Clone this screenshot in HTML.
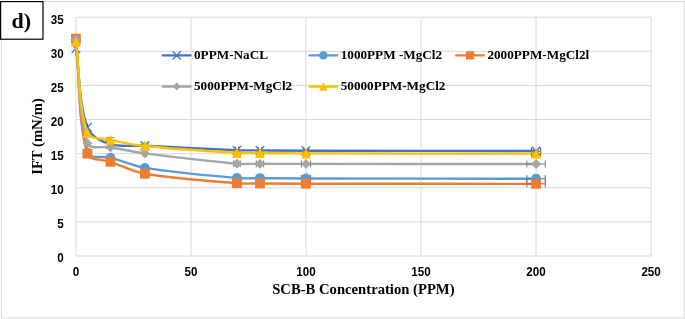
<!DOCTYPE html>
<html lang="en">
<head>
<meta charset="utf-8">
<title>IFT vs SCB-B Concentration</title>
<style>
html,body{margin:0;padding:0;background:#fff;}
body{width:685px;height:319px;overflow:hidden;}
svg{display:block;}
</style>
</head>
<body>
<svg width="685" height="319" viewBox="0 0 685 319">
<rect x="0" y="0" width="685" height="319" fill="#fff"/>
<rect x="1.5" y="1.5" width="682.8" height="316.3" fill="none" stroke="#D9D9D9" stroke-width="1"/>
<line x1="75.90" y1="256.00" x2="651.10" y2="256.00" stroke="#D9D9D9" stroke-width="1"/>
<line x1="75.90" y1="221.89" x2="651.10" y2="221.89" stroke="#D9D9D9" stroke-width="1"/>
<line x1="75.90" y1="187.77" x2="651.10" y2="187.77" stroke="#D9D9D9" stroke-width="1"/>
<line x1="75.90" y1="153.66" x2="651.10" y2="153.66" stroke="#D9D9D9" stroke-width="1"/>
<line x1="75.90" y1="119.54" x2="651.10" y2="119.54" stroke="#D9D9D9" stroke-width="1"/>
<line x1="75.90" y1="85.43" x2="651.10" y2="85.43" stroke="#D9D9D9" stroke-width="1"/>
<line x1="75.90" y1="51.31" x2="651.10" y2="51.31" stroke="#D9D9D9" stroke-width="1"/>
<line x1="75.90" y1="17.20" x2="651.10" y2="17.20" stroke="#D9D9D9" stroke-width="1"/>
<line x1="75.90" y1="17.20" x2="75.90" y2="256.00" stroke="#D9D9D9" stroke-width="1"/>
<line x1="190.94" y1="17.20" x2="190.94" y2="256.00" stroke="#D9D9D9" stroke-width="1"/>
<line x1="305.98" y1="17.20" x2="305.98" y2="256.00" stroke="#D9D9D9" stroke-width="1"/>
<line x1="421.02" y1="17.20" x2="421.02" y2="256.00" stroke="#D9D9D9" stroke-width="1"/>
<line x1="536.06" y1="17.20" x2="536.06" y2="256.00" stroke="#D9D9D9" stroke-width="1"/>
<line x1="651.10" y1="17.20" x2="651.10" y2="256.00" stroke="#D9D9D9" stroke-width="1"/>
<g>
<path d="M75.90,48.70 C79.73,74.90 78.94,103.88 87.40,127.30 C90.45,135.72 101.74,141.44 110.41,144.20 C120.91,147.54 133.42,145.05 144.92,145.60 C175.60,147.05 206.27,148.92 236.96,150.20 C244.62,150.52 252.29,150.34 259.96,150.40 C275.30,150.51 290.64,150.67 305.98,150.70 C382.67,150.87 459.37,150.90 536.06,151.00" fill="none" stroke="#4472C4" stroke-width="2.40" stroke-linecap="round" stroke-linejoin="round"/>
<path d="M87.29,127.30 L87.52,127.30 M87.29,123.80 L87.29,130.80 M87.52,123.80 L87.52,130.80" stroke="#2F5597" stroke-width="1" fill="none"/>
<path d="M110.07,144.20 L110.76,144.20 M110.07,140.70 L110.07,147.70 M110.76,140.70 L110.76,147.70" stroke="#2F5597" stroke-width="1" fill="none"/>
<path d="M144.23,145.60 L145.61,145.60 M144.23,142.10 L144.23,149.10 M145.61,142.10 L145.61,149.10" stroke="#2F5597" stroke-width="1" fill="none"/>
<path d="M235.35,150.20 L238.57,150.20 M235.35,146.70 L235.35,153.70 M238.57,146.70 L238.57,153.70" stroke="#2F5597" stroke-width="1" fill="none"/>
<path d="M258.12,150.40 L261.80,150.40 M258.12,146.90 L258.12,153.90 M261.80,146.90 L261.80,153.90" stroke="#2F5597" stroke-width="1" fill="none"/>
<path d="M303.68,150.70 L308.28,150.70 M303.68,147.20 L303.68,154.20 M308.28,147.20 L308.28,154.20" stroke="#2F5597" stroke-width="1" fill="none"/>
<path d="M531.46,151.00 L540.66,151.00 M531.46,147.50 L531.46,154.50 M540.66,147.50 L540.66,154.50" stroke="#2F5597" stroke-width="1" fill="none"/>
<path d="M71.60,44.40 L80.20,53.00 M71.60,53.00 L80.20,44.40" stroke="#4472C4" stroke-width="1.3" fill="none"/>
<path d="M83.10,123.00 L91.70,131.60 M83.10,131.60 L91.70,123.00" stroke="#4472C4" stroke-width="1.3" fill="none"/>
<path d="M106.11,139.90 L114.71,148.50 M106.11,148.50 L114.71,139.90" stroke="#4472C4" stroke-width="1.3" fill="none"/>
<path d="M140.62,141.30 L149.22,149.90 M140.62,149.90 L149.22,141.30" stroke="#4472C4" stroke-width="1.3" fill="none"/>
<path d="M232.66,145.90 L241.26,154.50 M232.66,154.50 L241.26,145.90" stroke="#4472C4" stroke-width="1.3" fill="none"/>
<path d="M255.66,146.10 L264.26,154.70 M255.66,154.70 L264.26,146.10" stroke="#4472C4" stroke-width="1.3" fill="none"/>
<path d="M301.68,146.40 L310.28,155.00 M301.68,155.00 L310.28,146.40" stroke="#4472C4" stroke-width="1.3" fill="none"/>
<path d="M531.76,146.70 L540.36,155.30 M531.76,155.30 L540.36,146.70" stroke="#4472C4" stroke-width="1.3" fill="none"/>
</g>
<g>
<path d="M75.90,39.90 C79.73,77.47 77.88,120.11 87.40,152.60 C89.38,159.36 102.83,155.64 110.41,157.65 C122.00,160.72 133.12,165.95 144.92,167.85 C175.30,172.73 206.24,175.24 236.96,178.00 C244.59,178.69 252.29,178.14 259.96,178.20 C275.30,178.31 290.64,178.47 305.98,178.50 C382.67,178.64 459.37,178.63 536.06,178.70" fill="none" stroke="#5B9BD5" stroke-width="2.40" stroke-linecap="round" stroke-linejoin="round"/>
<path d="M87.17,152.60 L87.63,152.60 M87.17,149.10 L87.17,156.10 M87.63,149.10 L87.63,156.10" stroke="#2E75B6" stroke-width="1" fill="none"/>
<path d="M109.72,157.65 L111.10,157.65 M109.72,154.15 L109.72,161.15 M111.10,154.15 L111.10,161.15" stroke="#2E75B6" stroke-width="1" fill="none"/>
<path d="M143.54,167.85 L146.30,167.85 M143.54,164.35 L143.54,171.35 M146.30,164.35 L146.30,171.35" stroke="#2E75B6" stroke-width="1" fill="none"/>
<path d="M233.73,178.00 L240.18,178.00 M233.73,174.50 L233.73,181.50 M240.18,174.50 L240.18,181.50" stroke="#2E75B6" stroke-width="1" fill="none"/>
<path d="M256.28,178.20 L263.65,178.20 M256.28,174.70 L256.28,181.70 M263.65,174.70 L263.65,181.70" stroke="#2E75B6" stroke-width="1" fill="none"/>
<path d="M301.38,178.50 L310.58,178.50 M301.38,175.00 L301.38,182.00 M310.58,175.00 L310.58,182.00" stroke="#2E75B6" stroke-width="1" fill="none"/>
<path d="M526.86,178.70 L545.26,178.70 M526.86,175.20 L526.86,182.20 M545.26,175.20 L545.26,182.20" stroke="#2E75B6" stroke-width="1" fill="none"/>
<circle cx="75.90" cy="39.90" r="4.90" fill="#5B9BD5"/>
<circle cx="87.40" cy="152.60" r="4.90" fill="#5B9BD5"/>
<circle cx="110.41" cy="157.65" r="4.90" fill="#5B9BD5"/>
<circle cx="144.92" cy="167.85" r="4.90" fill="#5B9BD5"/>
<circle cx="236.96" cy="178.00" r="4.90" fill="#5B9BD5"/>
<circle cx="259.96" cy="178.20" r="4.90" fill="#5B9BD5"/>
<circle cx="305.98" cy="178.50" r="4.90" fill="#5B9BD5"/>
<circle cx="536.06" cy="178.70" r="4.90" fill="#5B9BD5"/>
</g>
<g>
<path d="M75.90,38.60 C79.73,76.97 77.90,119.79 87.40,153.70 C89.41,160.85 102.73,159.12 110.41,161.80 C121.91,165.81 132.99,171.73 144.92,173.75 C175.17,178.88 206.25,180.65 236.96,183.25 C244.59,183.90 252.29,183.45 259.96,183.50 C275.30,183.60 290.64,183.68 305.98,183.70 C382.67,183.80 459.37,183.80 536.06,183.85" fill="none" stroke="#ED7D31" stroke-width="2.40" stroke-linecap="round" stroke-linejoin="round"/>
<path d="M87.17,153.70 L87.63,153.70 M87.17,150.20 L87.17,157.20 M87.63,150.20 L87.63,157.20" stroke="#C55A11" stroke-width="1" fill="none"/>
<path d="M109.72,161.80 L111.10,161.80 M109.72,158.30 L109.72,165.30 M111.10,158.30 L111.10,165.30" stroke="#C55A11" stroke-width="1" fill="none"/>
<path d="M143.54,173.75 L146.30,173.75 M143.54,170.25 L143.54,177.25 M146.30,170.25 L146.30,177.25" stroke="#C55A11" stroke-width="1" fill="none"/>
<path d="M233.73,183.25 L240.18,183.25 M233.73,179.75 L233.73,186.75 M240.18,179.75 L240.18,186.75" stroke="#C55A11" stroke-width="1" fill="none"/>
<path d="M256.28,183.50 L263.65,183.50 M256.28,180.00 L256.28,187.00 M263.65,180.00 L263.65,187.00" stroke="#C55A11" stroke-width="1" fill="none"/>
<path d="M301.38,183.70 L310.58,183.70 M301.38,180.20 L301.38,187.20 M310.58,180.20 L310.58,187.20" stroke="#C55A11" stroke-width="1" fill="none"/>
<path d="M526.86,183.85 L545.26,183.85 M526.86,180.35 L526.86,187.35 M545.26,180.35 L545.26,187.35" stroke="#C55A11" stroke-width="1" fill="none"/>
<rect x="71.00" y="33.70" width="9.80" height="9.80" fill="#ED7D31"/>
<rect x="82.50" y="148.80" width="9.80" height="9.80" fill="#ED7D31"/>
<rect x="105.51" y="156.90" width="9.80" height="9.80" fill="#ED7D31"/>
<rect x="140.02" y="168.85" width="9.80" height="9.80" fill="#ED7D31"/>
<rect x="232.06" y="178.35" width="9.80" height="9.80" fill="#ED7D31"/>
<rect x="255.06" y="178.60" width="9.80" height="9.80" fill="#ED7D31"/>
<rect x="301.08" y="178.80" width="9.80" height="9.80" fill="#ED7D31"/>
<rect x="531.16" y="178.95" width="9.80" height="9.80" fill="#ED7D31"/>
</g>
<g>
<path d="M75.90,39.50 C79.73,74.10 78.00,113.93 87.40,143.30 C89.51,149.87 102.74,145.95 110.41,147.30 C121.92,149.32 133.34,151.90 144.92,153.40 C175.52,157.37 206.24,160.92 236.96,163.70 C244.59,164.39 252.29,163.78 259.96,163.80 C275.30,163.84 290.64,163.89 305.98,163.90 C382.67,163.96 459.37,163.97 536.06,164.00" fill="none" stroke="#A5A5A5" stroke-width="2.40" stroke-linecap="round" stroke-linejoin="round"/>
<path d="M87.17,143.30 L87.63,143.30 M87.17,139.80 L87.17,146.80 M87.63,139.80 L87.63,146.80" stroke="#7C7C7C" stroke-width="1" fill="none"/>
<path d="M109.72,147.30 L111.10,147.30 M109.72,143.80 L109.72,150.80 M111.10,143.80 L111.10,150.80" stroke="#7C7C7C" stroke-width="1" fill="none"/>
<path d="M143.54,153.40 L146.30,153.40 M143.54,149.90 L143.54,156.90 M146.30,149.90 L146.30,156.90" stroke="#7C7C7C" stroke-width="1" fill="none"/>
<path d="M233.73,163.70 L240.18,163.70 M233.73,160.20 L233.73,167.20 M240.18,160.20 L240.18,167.20" stroke="#7C7C7C" stroke-width="1" fill="none"/>
<path d="M256.28,163.80 L263.65,163.80 M256.28,160.30 L256.28,167.30 M263.65,160.30 L263.65,167.30" stroke="#7C7C7C" stroke-width="1" fill="none"/>
<path d="M301.38,163.90 L310.58,163.90 M301.38,160.40 L301.38,167.40 M310.58,160.40 L310.58,167.40" stroke="#7C7C7C" stroke-width="1" fill="none"/>
<path d="M526.86,164.00 L545.26,164.00 M526.86,160.50 L526.86,167.50 M545.26,160.50 L545.26,167.50" stroke="#7C7C7C" stroke-width="1" fill="none"/>
<path d="M75.90,34.60 L80.80,39.50 L75.90,44.40 L71.00,39.50 Z" fill="#A5A5A5"/>
<path d="M87.40,138.40 L92.30,143.30 L87.40,148.20 L82.50,143.30 Z" fill="#A5A5A5"/>
<path d="M110.41,142.40 L115.31,147.30 L110.41,152.20 L105.51,147.30 Z" fill="#A5A5A5"/>
<path d="M144.92,148.50 L149.82,153.40 L144.92,158.30 L140.02,153.40 Z" fill="#A5A5A5"/>
<path d="M236.96,158.80 L241.86,163.70 L236.96,168.60 L232.06,163.70 Z" fill="#A5A5A5"/>
<path d="M259.96,158.90 L264.86,163.80 L259.96,168.70 L255.06,163.80 Z" fill="#A5A5A5"/>
<path d="M305.98,159.00 L310.88,163.90 L305.98,168.80 L301.08,163.90 Z" fill="#A5A5A5"/>
<path d="M536.06,159.10 L540.96,164.00 L536.06,168.90 L531.16,164.00 Z" fill="#A5A5A5"/>
</g>
<g>
<path d="M75.90,41.85 C79.73,72.13 78.30,106.85 87.40,132.70 C89.80,139.50 102.61,138.00 110.41,139.80 C121.78,142.43 133.31,144.80 144.92,146.00 C175.49,149.16 206.26,151.01 236.96,152.90 C244.61,153.37 252.29,153.04 259.96,153.10 C275.30,153.21 290.64,153.37 305.98,153.40 C382.67,153.57 459.37,153.60 536.06,153.70" fill="none" stroke="#FFC000" stroke-width="2.40" stroke-linecap="round" stroke-linejoin="round"/>
<path d="M87.29,132.70 L87.52,132.70 M87.29,129.20 L87.29,136.20 M87.52,129.20 L87.52,136.20" stroke="#BF9000" stroke-width="1" fill="none"/>
<path d="M110.07,139.80 L110.76,139.80 M110.07,136.30 L110.07,143.30 M110.76,136.30 L110.76,143.30" stroke="#BF9000" stroke-width="1" fill="none"/>
<path d="M110.41,137.48 L110.41,142.12 M106.41,137.48 L114.41,137.48 M106.41,142.12 L114.41,142.12" stroke="#BF9000" stroke-width="1" fill="none"/>
<path d="M144.23,146.00 L145.61,146.00 M144.23,142.50 L144.23,149.50 M145.61,142.50 L145.61,149.50" stroke="#BF9000" stroke-width="1" fill="none"/>
<path d="M144.92,143.80 L144.92,148.20 M140.92,143.80 L148.92,143.80 M140.92,148.20 L148.92,148.20" stroke="#BF9000" stroke-width="1" fill="none"/>
<path d="M235.35,152.90 L238.57,152.90 M235.35,149.40 L235.35,156.40 M238.57,149.40 L238.57,156.40" stroke="#BF9000" stroke-width="1" fill="none"/>
<path d="M236.96,150.84 L236.96,154.96 M232.96,150.84 L240.96,150.84 M232.96,154.96 L240.96,154.96" stroke="#BF9000" stroke-width="1" fill="none"/>
<path d="M258.12,153.10 L261.80,153.10 M258.12,149.60 L258.12,156.60 M261.80,149.60 L261.80,156.60" stroke="#BF9000" stroke-width="1" fill="none"/>
<path d="M259.96,151.04 L259.96,155.16 M255.96,151.04 L263.96,151.04 M255.96,155.16 L263.96,155.16" stroke="#BF9000" stroke-width="1" fill="none"/>
<path d="M303.68,153.40 L308.28,153.40 M303.68,149.90 L303.68,156.90 M308.28,149.90 L308.28,156.90" stroke="#BF9000" stroke-width="1" fill="none"/>
<path d="M305.98,151.35 L305.98,155.45 M301.98,151.35 L309.98,151.35 M301.98,155.45 L309.98,155.45" stroke="#BF9000" stroke-width="1" fill="none"/>
<path d="M531.46,153.70 L540.66,153.70 M531.46,150.20 L531.46,157.20 M540.66,150.20 L540.66,157.20" stroke="#BF9000" stroke-width="1" fill="none"/>
<path d="M536.06,151.65 L536.06,155.75 M532.06,151.65 L540.06,151.65 M532.06,155.75 L540.06,155.75" stroke="#BF9000" stroke-width="1" fill="none"/>
<path d="M75.90,36.85 L80.90,46.85 L70.90,46.85 Z" fill="#FFC000"/>
<path d="M87.40,127.70 L92.40,137.70 L82.40,137.70 Z" fill="#FFC000"/>
<path d="M110.41,134.80 L115.41,144.80 L105.41,144.80 Z" fill="#FFC000"/>
<path d="M144.92,141.00 L149.92,151.00 L139.92,151.00 Z" fill="#FFC000"/>
<path d="M236.96,147.90 L241.96,157.90 L231.96,157.90 Z" fill="#FFC000"/>
<path d="M259.96,148.10 L264.96,158.10 L254.96,158.10 Z" fill="#FFC000"/>
<path d="M305.98,148.40 L310.98,158.40 L300.98,158.40 Z" fill="#FFC000"/>
<path d="M536.06,148.70 L541.06,158.70 L531.06,158.70 Z" fill="#FFC000"/>
</g>
<text x="63.7" y="262.30" text-anchor="end" font-family="Liberation Sans, sans-serif" font-weight="bold" font-size="12" textLength="6.5" lengthAdjust="spacingAndGlyphs" fill="#000">0</text>
<text x="63.7" y="228.19" text-anchor="end" font-family="Liberation Sans, sans-serif" font-weight="bold" font-size="12" textLength="6.5" lengthAdjust="spacingAndGlyphs" fill="#000">5</text>
<text x="63.7" y="194.07" text-anchor="end" font-family="Liberation Sans, sans-serif" font-weight="bold" font-size="12" textLength="12.9" lengthAdjust="spacingAndGlyphs" fill="#000">10</text>
<text x="63.7" y="159.96" text-anchor="end" font-family="Liberation Sans, sans-serif" font-weight="bold" font-size="12" textLength="12.9" lengthAdjust="spacingAndGlyphs" fill="#000">15</text>
<text x="63.7" y="125.84" text-anchor="end" font-family="Liberation Sans, sans-serif" font-weight="bold" font-size="12" textLength="12.9" lengthAdjust="spacingAndGlyphs" fill="#000">20</text>
<text x="63.7" y="91.73" text-anchor="end" font-family="Liberation Sans, sans-serif" font-weight="bold" font-size="12" textLength="12.9" lengthAdjust="spacingAndGlyphs" fill="#000">25</text>
<text x="63.7" y="57.61" text-anchor="end" font-family="Liberation Sans, sans-serif" font-weight="bold" font-size="12" textLength="12.9" lengthAdjust="spacingAndGlyphs" fill="#000">30</text>
<text x="63.7" y="23.50" text-anchor="end" font-family="Liberation Sans, sans-serif" font-weight="bold" font-size="12" textLength="12.9" lengthAdjust="spacingAndGlyphs" fill="#000">35</text>
<text x="75.90" y="276.2" text-anchor="middle" font-family="Liberation Sans, sans-serif" font-weight="bold" font-size="12" textLength="6.5" lengthAdjust="spacingAndGlyphs" fill="#000">0</text>
<text x="190.94" y="276.2" text-anchor="middle" font-family="Liberation Sans, sans-serif" font-weight="bold" font-size="12" textLength="12.9" lengthAdjust="spacingAndGlyphs" fill="#000">50</text>
<text x="305.98" y="276.2" text-anchor="middle" font-family="Liberation Sans, sans-serif" font-weight="bold" font-size="12" textLength="19.4" lengthAdjust="spacingAndGlyphs" fill="#000">100</text>
<text x="421.02" y="276.2" text-anchor="middle" font-family="Liberation Sans, sans-serif" font-weight="bold" font-size="12" textLength="19.4" lengthAdjust="spacingAndGlyphs" fill="#000">150</text>
<text x="536.06" y="276.2" text-anchor="middle" font-family="Liberation Sans, sans-serif" font-weight="bold" font-size="12" textLength="19.4" lengthAdjust="spacingAndGlyphs" fill="#000">200</text>
<text x="651.10" y="276.2" text-anchor="middle" font-family="Liberation Sans, sans-serif" font-weight="bold" font-size="12" textLength="19.4" lengthAdjust="spacingAndGlyphs" fill="#000">250</text>
<text x="363.4" y="294.25" text-anchor="middle" font-family="Liberation Serif, serif" font-weight="bold" font-size="14.67" fill="#000">SCB-B Concentration (PPM)</text>
<text transform="translate(41.9,136.5) rotate(-90)" text-anchor="middle" font-family="Liberation Serif, serif" font-weight="bold" font-size="14.67" fill="#000">IFT (mN/m)</text>
<line x1="162.90" y1="55.40" x2="190.40" y2="55.40" stroke="#4472C4" stroke-width="2.40" stroke-linecap="round"/>
<path d="M172.60,51.30 L180.80,59.50 M172.60,59.50 L180.80,51.30" stroke="#4472C4" stroke-width="1.3" fill="none"/>
<text x="194.00" y="58.80" font-family="Liberation Serif, serif" font-weight="bold" font-size="13.2" fill="#000" xml:space="preserve">0PPM-NaCL</text>
<line x1="309.60" y1="55.40" x2="337.10" y2="55.40" stroke="#5B9BD5" stroke-width="2.40" stroke-linecap="round"/>
<circle cx="323.40" cy="55.40" r="4.10" fill="#5B9BD5"/>
<text x="340.70" y="58.80" font-family="Liberation Serif, serif" font-weight="bold" font-size="13.2" fill="#000" xml:space="preserve">1000PPM -MgCl2</text>
<line x1="456.30" y1="55.40" x2="483.80" y2="55.40" stroke="#ED7D31" stroke-width="2.40" stroke-linecap="round"/>
<rect x="466.00" y="51.30" width="8.20" height="8.20" fill="#ED7D31"/>
<text x="487.40" y="58.80" font-family="Liberation Serif, serif" font-weight="bold" font-size="13.2" fill="#000" xml:space="preserve">2000PPM-MgCl2l</text>
<line x1="162.90" y1="86.50" x2="190.40" y2="86.50" stroke="#A5A5A5" stroke-width="2.40" stroke-linecap="round"/>
<path d="M176.70,82.40 L180.80,86.50 L176.70,90.60 L172.60,86.50 Z" fill="#A5A5A5"/>
<text x="194.00" y="89.90" font-family="Liberation Serif, serif" font-weight="bold" font-size="13.2" fill="#000" xml:space="preserve">5000PPM-MgCl2</text>
<line x1="309.60" y1="86.50" x2="337.10" y2="86.50" stroke="#FFC000" stroke-width="2.40" stroke-linecap="round"/>
<path d="M323.40,82.32 L327.58,90.68 L319.22,90.68 Z" fill="#FFC000"/>
<text x="340.70" y="89.90" font-family="Liberation Serif, serif" font-weight="bold" font-size="13.2" fill="#000" xml:space="preserve">50000PPM-MgCl2</text>
<rect x="0.6" y="1.6" width="42.4" height="37.6" fill="#fff" stroke="#000" stroke-width="1.2"/>
<text x="21.3" y="28" text-anchor="middle" font-family="Liberation Serif, serif" font-weight="bold" font-size="22" fill="#000">d)</text>
</svg>
</body>
</html>
